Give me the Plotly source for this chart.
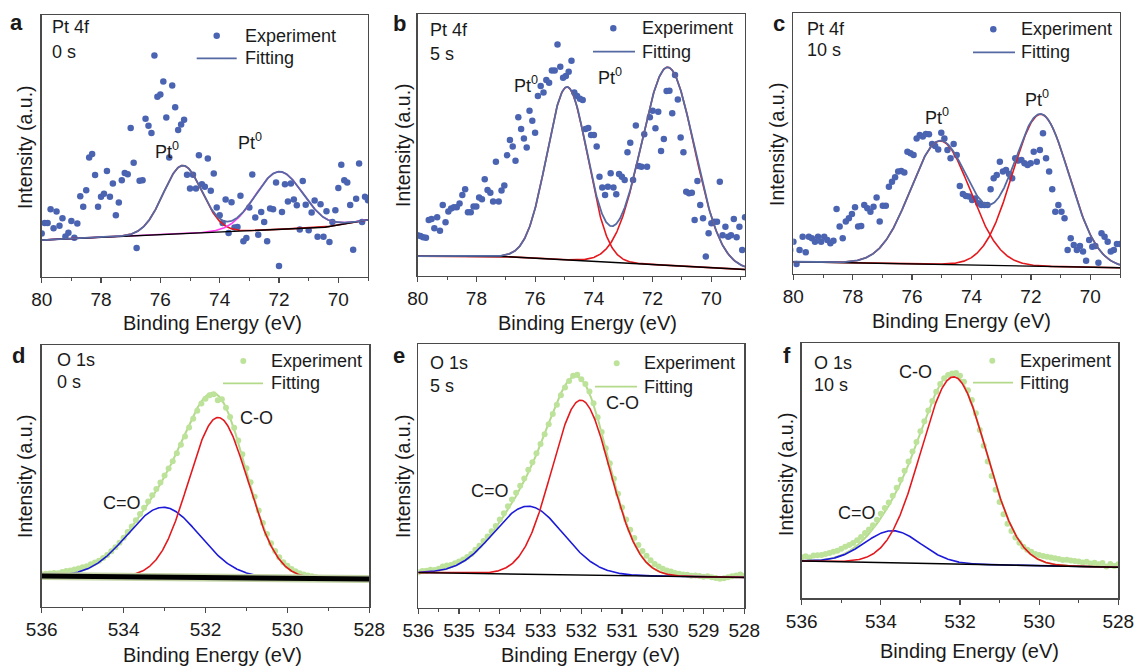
import numpy as np
import plotly.graph_objects as go

W, H = 1136, 666
FONT = "Arial, Liberation Sans, sans-serif"
TXT = "#1a1a1a"

# ---------------- DATA ----------------
# (a) Pt 4f, 0 s
a_energy_range = (80.1, 69.0)
a_counts = [26.1, 16.6, 20.6, 20.6, 25.9, 18.6, 25.0, 19.6, 22.4, 15.5,
            16.9, 21.4, 15.0, 20.4, 30.8, 26.8, 33.1, 45.6, 46.9, 38.9,
            26.8, 30.6, 31.8, 40.5, 30.6, 35.7, 23.6, 28.4, 36.9, 39.7,
            39.2, 56.9, 43.6, 11.1, 36.7, 36.9, 60.4, 57.7, 55.0, 84.5,
            68.8, 69.7, 74.6, 60.9, 45.6, 73.1, 64.8, 56.1, 58.2, 60.0,
            39.0, 33.8, 39.0, 33.8, 46.5, 35.4, 34.4, 45.2, 32.9, 39.5,
            26.5, 23.6, 20.6, 29.6, 16.8, 28.5, 18.9, 19.1, 31.0, 13.6,
            14.9, 26.5, 39.1, 22.7, 16.1, 24.8, 21.0, 13.6, 26.1, 25.9,
            36.1, 4.2, 24.8, 35.4, 28.8, 35.7, 29.6, 27.4, 18.1, 36.6,
            27.6, 17.8, 24.6, 29.2, 15.4, 27.8, 15.4, 25.1, 13.4, 21.0,
            25.5, 34.0, 42.8, 36.9, 36.1, 27.5, 10.4, 29.9, 43.3, 21.0,
            30.6, 29.3]
a_peak_centers = [75.25, 72.0]
a_peak_heights = [26.0, 22.0]
a_peak_sigmas = [0.65, 0.8]
a_base_energy = [80.0, 70.45, 69.0]
a_base_level = [14.1, 19.0, 21.8]

# (b) Pt 4f, 5 s
b_energy_range = (80.1, 68.85)
b_counts = [20.7, 15.6, 15.3, 14.8, 14.6, 21.4, 21.8, 18.2, 22.4, 17.3,
            27.1, 20.5, 24.6, 25.8, 26.2, 26.2, 27.7, 30.9, 33.1, 24.3,
            24.3, 26.5, 26.5, 30.0, 29.3, 36.9, 32.8, 31.8, 28.4, 43.6,
            28.4, 32.6, 34.5, 46.1, 51.9, 49.4, 44.0, 60.6, 56.1, 52.5,
            49.0, 63.1, 59.3, 54.7, 68.7, 72.5, 70.0, 74.8, 73.8, 78.4,
            78.4, 88.4, 79.9, 75.7, 76.3, 78.0, 82.2, 70.0, 68.7, 67.7,
            67.2, 56.1, 56.5, 53.8, 53.8, 49.4, 37.9, 33.8, 30.9, 34.1,
            39.2, 33.8, 31.2, 38.9, 37.9, 36.6, 47.2, 50.9, 36.6, 57.4,
            42.0, 41.7, 54.1, 41.7, 60.6, 63.1, 56.4, 62.7, 47.7, 52.3,
            70.6, 70.7, 62.1, 76.7, 67.4, 52.9, 47.2, 32.2, 31.6, 31.8,
            21.4, 36.3, 27.1, 22.0, 7.4, 16.3, 20.1, 20.7, 20.7, 36.0,
            15.6, 18.8, 15.0, 15.6, 21.8, 14.8, 18.8, 9.9, 22.4]
b_peak_centers = [74.91, 71.48]
b_peak_heights = [66.0, 75.6]
b_peak_sigmas = [0.69, 0.9]
b_base_energy = [80.0, 77.0, 68.85]
b_base_level = [7.6, 7.4, 2.5]

# (c) Pt 4f, 10 s
c_energy_range = (80.1, 69.0)
c_counts = [9.2, 12.4, 3.8, 9.2, 14.3, 8.3, 14.3, 13.7, 12.4, 14.3,
            12.4, 14.3, 13.0, 11.8, 12.8, 24.9, 18.2, 13.7, 20.1, 21.4,
            23.0, 25.6, 18.2, 18.4, 26.5, 25.2, 23.9, 25.8, 29.3, 20.1,
            26.2, 26.2, 33.5, 35.4, 37.1, 39.3, 39.5, 38.9, 46.9, 46.3,
            45.6, 52.0, 53.3, 52.7, 53.7, 53.6, 49.9, 49.1, 47.8, 54.2,
            52.0, 47.6, 44.4, 49.9, 45.6, 33.8, 30.7, 29.9, 29.7, 28.4,
            29.0, 27.1, 26.5, 26.5, 26.5, 32.5, 36.7, 38.0, 43.1, 39.3,
            39.9, 38.4, 36.7, 44.4, 43.5, 43.7, 42.5, 41.8, 42.5, 46.9,
            43.1, 47.6, 54.0, 44.4, 39.3, 32.5, 23.9, 26.5, 23.9, 21.4,
            9.2, 13.7, 11.1, 9.2, 10.7, 8.6, 5.1, 13.0, 10.5, 10.7,
            4.3, 15.6, 14.3, 12.4, 8.6, 9.2, 11.5, 11.5]
c_peak_centers = [75.05, 71.67]
c_peak_heights = [47.4, 58.3]
c_peak_sigmas = [1.0, 0.95]
c_base_energy = [80.0, 69.0]
c_base_level = [4.7, 2.4]

# (d) O 1s, 0 s
d_energy_range = (536.0, 528.0)
d_counts = [12.4, 12.6, 12.7, 12.9, 12.8, 13.3, 13.6, 13.8, 14.2, 14.6, 15.1,
            15.5, 16.2, 16.9, 17.6, 18.6, 19.8, 21.2, 22.7, 24.4, 26.3,
            28.5, 30.6, 33.0, 35.4, 37.8, 40.2, 42.6, 45.0, 47.5, 50.1,
            52.8, 55.6, 58.6, 61.9, 65.0, 68.5, 71.8, 74.9, 77.6, 79.5,
            80.8, 81.2, 78.9, 79.3, 76.0, 72.5, 68.4, 63.5, 58.3, 52.9,
            47.6, 42.0, 36.8, 32.0, 27.8, 24.2, 21.3, 18.9, 17.0, 15.6,
            14.4, 13.5, 12.8, 12.3, 11.9, 11.6, 11.3, 11.1, 11.0, 10.9,
            10.8, 10.7, 10.7, 10.6, 10.6, 10.5, 10.5, 10.4, 10.4, 10.4]
d_peak_centers = [533.03, 531.69]
d_peak_heights = [26.7, 61.2]
d_peak_sigmas = [0.88, 0.72]
d_base_energy = [536.0, 528.0]
d_base_level = [11.7, 10.6]

# (e) O 1s, 5 s
e_energy_range = (536.0, 528.0)
e_counts = [13.4, 13.9, 14.0, 14.4, 14.3, 14.8, 15.6, 16.0, 16.2, 16.9, 17.5,
            18.3, 19.2, 20.4, 22.0, 23.5, 25.3, 27.0, 29.0, 31.0, 33.4,
            35.8, 38.5, 41.0, 43.6, 46.2, 49.0, 52.3, 55.2, 58.6, 62.1,
            65.8, 69.6, 73.5, 77.0, 80.6, 83.5, 86.0, 88.0, 88.3, 86.6,
            84.8, 82.0, 77.5, 72.2, 66.6, 60.5, 54.8, 48.9, 43.2, 38.0,
            33.4, 29.6, 26.4, 23.8, 21.5, 19.7, 18.0, 16.6, 15.6, 14.8,
            14.1, 13.7, 13.2, 12.9, 12.6, 12.5, 12.1, 12.2, 12.0, 11.7,
            11.9, 11.5, 11.3, 11.0, 11.2, 11.5, 11.9, 12.2, 12.6, 12.0]
e_peak_centers = [533.30, 532.01]
e_peak_heights = [25.8, 66.3]
e_peak_sigmas = [0.85, 0.71]
e_base_energy = [536.0, 528.0]
e_base_level = [13.3, 11.5]

# (f) O 1s, 10 s
f_energy_range = (536.0, 528.0)
f_counts = [16.1, 16.5, 16.0, 16.8, 16.9, 17.0, 17.4, 17.8, 18.3, 18.6, 19.4,
            20.2, 20.9, 21.7, 22.8, 24.0, 25.6, 27.0, 28.6, 30.8, 33.2,
            35.4, 37.6, 40.2, 43.4, 46.5, 50.0, 53.6, 57.6, 61.3, 65.5,
            69.4, 73.6, 77.4, 81.0, 84.0, 86.3, 87.6, 88.2, 88.4, 87.3,
            84.9, 81.6, 77.8, 72.6, 66.0, 59.8, 53.6, 48.0, 42.6, 37.8,
            33.0, 29.2, 26.4, 23.8, 21.8, 20.2, 19.0, 18.3, 17.4, 17.0,
            16.6, 16.3, 16.0, 15.7, 15.4, 15.0, 15.1, 14.8, 14.6, 14.4,
            14.0, 14.3, 13.6, 13.9, 13.4, 13.8, 12.5, 13.5, 12.7, 13.4]
f_peak_centers = [533.70, 532.16]
f_peak_heights = [12.6, 73.4]
f_peak_sigmas = [0.71, 0.82]
f_base_energy = [536.0, 528.0]
f_base_level = [14.6, 12.2]

panel_letters = ["a", "b", "c", "d", "e", "f"]
panel_core = ["Pt 4f", "Pt 4f", "Pt 4f", "O 1s", "O 1s", "O 1s"]
panel_time = ["0 s", "5 s", "10 s", "0 s", "5 s", "10 s"]
legend_names = ["Experiment", "Fitting"]
x_title = "Binding Energy (eV)"
y_title = "Intensity (a.u.)"

# ---------------- STYLE / LAYOUT ----------------
PT_DOT = "#4a64b2"
PT_FIT = "#5569a3"
O_DOT = "#bde39b"
O_FIT = "#b3da8a"
RED = "#e3191e"
MAGENTA = "#ff3cf0"
BLUE = "#1c1ad8"

# frame pixel boxes: left, right, top, bottom
frames = [
    (41.7, 368.0, 15.0, 277.0),
    (417.7, 745.0, 14.0, 276.0),
    (793.3, 1120.0, 13.3, 274.0),
    (41.7, 369.3, 345.0, 606.7),
    (418.3, 744.3, 344.0, 607.7),
    (801.7, 1118.3, 343.3, 598.3),
]

def gauss(x, c, h, s):
    return h * np.exp(-(x - c) ** 2 / (2 * s ** 2))

def px(x):
    return x / W

def py(y):
    return 1 - y / H

fig = go.Figure()

panels = [
    dict(rng=a_energy_range, y=a_counts, pc=a_peak_centers, ph=a_peak_heights, ps=a_peak_sigmas,
         be=a_base_energy, bl=a_base_level, xr=(80, 69), kind="pt", comp_colors=[RED, MAGENTA]),
    dict(rng=b_energy_range, y=b_counts, pc=b_peak_centers, ph=b_peak_heights, ps=b_peak_sigmas,
         be=b_base_energy, bl=b_base_level, xr=(80, 68.85), kind="pt", comp_colors=[RED, RED]),
    dict(rng=c_energy_range, y=c_counts, pc=c_peak_centers, ph=c_peak_heights, ps=c_peak_sigmas,
         be=c_base_energy, bl=c_base_level, xr=(80, 69), kind="pt", comp_colors=[RED, RED]),
    dict(rng=d_energy_range, y=d_counts, pc=d_peak_centers, ph=d_peak_heights, ps=d_peak_sigmas,
         be=d_base_energy, bl=d_base_level, xr=(536, 528), kind="o", comp_colors=[BLUE, RED]),
    dict(rng=e_energy_range, y=e_counts, pc=e_peak_centers, ph=e_peak_heights, ps=e_peak_sigmas,
         be=e_base_energy, bl=e_base_level, xr=(536, 528), kind="o", comp_colors=[BLUE, RED]),
    dict(rng=f_energy_range, y=f_counts, pc=f_peak_centers, ph=f_peak_heights, ps=f_peak_sigmas,
         be=f_base_energy, bl=f_base_level, xr=(536, 528), kind="o", comp_colors=[BLUE, RED]),
]

# legend key positions (px): dot center x, text left x, row1 y, line x0, line x1, row2 y
legend_keys = [
    (216.7, 242.7, 35.7, 196.7, 236.7, 58.3),
    (613.3, 640.0, 28.3, 593.0, 635.0, 51.7),
    (993.3, 1019.3, 29.3, 973.0, 1015.0, 52.3),
    (243.3, 269.3, 361.0, 223.0, 263.0, 383.3),
    (616.7, 641.7, 363.3, 595.0, 637.0, 386.7),
    (992.3, 1018.3, 360.7, 973.0, 1013.0, 382.7),
]

layout_extra = {}
annotations = []
shapes = []

def ann(x, y, text, size=18, xanchor="center", yanchor="middle", angle=0, bold=False):
    annotations.append(dict(x=px(x), y=py(y), xref="paper", yref="paper",
                            text=f"<b>{text}</b>" if bold else text,
                            showarrow=False, xanchor=xanchor, yanchor=yanchor, textangle=angle,
                            font=dict(family=FONT, size=size, color=TXT)))

for i, p in enumerate(panels):
    n = i + 1
    xa = "x" if n == 1 else f"x{n}"
    ya = "y" if n == 1 else f"y{n}"
    energy = np.linspace(p["rng"][0], p["rng"][1], len(p["y"]))
    fitx = np.linspace(max(p["xr"]), min(p["xr"]), 700)
    base = np.interp(fitx, p["be"][::-1], p["bl"][::-1])
    comps = [gauss(fitx, c, h, s) for c, h, s in zip(p["pc"], p["ph"], p["ps"])]
    env = base + sum(comps)
    dot_col = PT_DOT if p["kind"] == "pt" else O_DOT
    fit_col = PT_FIT if p["kind"] == "pt" else O_FIT
    dot_size = 6.5 if p["kind"] == "pt" else 6

    exp_tr = go.Scatter(x=energy, y=p["y"], mode="markers", name=legend_names[0], showlegend=False,
                        marker=dict(color=dot_col, size=dot_size), xaxis=xa, yaxis=ya)
    env_tr = go.Scatter(x=fitx, y=env, mode="lines", name=legend_names[1], showlegend=False,
                        line=dict(color=fit_col, width=1.8 if p["kind"] == "pt" else 2),
                        xaxis=xa, yaxis=ya)
    comp_trs = [go.Scatter(x=fitx, y=base + cp, mode="lines", showlegend=False,
                           line=dict(color=col, width=1.6), xaxis=xa, yaxis=ya)
                for cp, col in zip(comps, p["comp_colors"])]
    base_trs = []
    if n == 4:
        base_trs.append(go.Scatter(x=p["be"], y=p["bl"], mode="lines", showlegend=False,
                                   line=dict(color="#c3d3a6", width=8), xaxis=xa, yaxis=ya))
        base_trs.append(go.Scatter(x=p["be"], y=p["bl"], mode="lines", showlegend=False,
                                   line=dict(color="black", width=5), xaxis=xa, yaxis=ya))
    else:
        base_trs.append(go.Scatter(x=p["be"], y=p["bl"], mode="lines", showlegend=False,
                                   line=dict(color="black", width=1.4), xaxis=xa, yaxis=ya))

    if p["kind"] == "pt":
        order = [exp_tr] + comp_trs + base_trs + [env_tr]
    else:
        order = [env_tr, exp_tr] + comp_trs + base_trs
    for t in order:
        fig.add_trace(t)

    l, r, t_, b = frames[i]
    is_e = (n == 5)
    common = dict(showline=True, linecolor="#4a4a4a", linewidth=1.4, mirror=True,
                  showgrid=False, zeroline=False, automargin=False)
    layout_extra["xaxis" if n == 1 else f"xaxis{n}"] = dict(
        domain=[px(l), px(r)], anchor=ya, range=list(p["xr"]),
        tickmode="linear", tick0=80 if p["kind"] == "pt" else 528,
        dtick=1 if is_e else 2, ticks="outside", ticklen=5, tickwidth=1.2, tickcolor="#4a4a4a",
        minor=dict(dtick=0.5 if is_e else 1, ticks="outside", ticklen=3, tickwidth=1, tickcolor="#4a4a4a"),
        tickfont=dict(family=FONT, size=19, color=TXT), **common)
    layout_extra["yaxis" if n == 1 else f"yaxis{n}"] = dict(
        domain=[py(b), py(t_)], anchor=xa, range=[0, 100], showticklabels=False, ticks="", **common)

    # manual legend
    dx, tx, y1, lx0, lx1, y2 = legend_keys[i]
    rad = dot_size / 2
    shapes.append(dict(type="circle", xref="paper", yref="paper",
                       x0=px(dx - rad), x1=px(dx + rad), y0=py(y1 + rad), y1=py(y1 - rad),
                       fillcolor=dot_col, line=dict(width=0)))
    shapes.append(dict(type="line", xref="paper", yref="paper",
                       x0=px(lx0), x1=px(lx1), y0=py(y2), y1=py(y2),
                       line=dict(color=fit_col, width=1.8)))
    ann(tx, y1, legend_names[0], xanchor="left")
    ann(tx, y2, legend_names[1], xanchor="left")

# ---------------- TEXT ----------------
letter_pos = [(16.7, 23.0), (399.0, 24.0), (779.0, 24.0), (18.3, 355.6), (399.0, 355.6), (787.0, 355.6)]
core_pos = [(50.0, 27.0, 52.0), (428.3, 30.4, 53.7), (805.0, 28.7, 50.4),
            (55.0, 360.4, 382.0), (428.3, 363.0, 386.4), (811.7, 363.0, 385.4)]
xtitle_pos = [(212, 323), (587, 323), (961, 321), (212, 655), (590, 655), (969, 651)]
ytitle_pos = [(25, 147), (403, 145), (777, 144), (25, 476), (403, 476), (786, 474)]

for i in range(6):
    ann(*letter_pos[i], panel_letters[i], size=22, bold=True)
    x0, y1, y2 = core_pos[i]
    ann(x0, y1, panel_core[i], xanchor="left")
    ann(x0, y2, panel_time[i], xanchor="left")
    ann(*xtitle_pos[i], x_title, size=20)
    ann(*ytitle_pos[i], y_title, size=19.5, angle=-90)

pt_label_pos = [(166.7, 150), (250, 141), (526.3, 85), (610.3, 76.7), (936.7, 116.7), (1036.7, 98.3)]
for (x, y) in pt_label_pos:
    ann(x, y, "Pt<sup>0</sup>")

o_labels = [("C=O", 122.3, 503), ("C-O", 256, 418.3), ("C=O", 490, 491),
            ("C-O", 622.5, 403), ("C-O", 915, 371.7), ("C=O", 857, 513.3)]
for text, x, y in o_labels:
    ann(x, y, text)

fig.update_layout(width=W, height=H, margin=dict(l=0, r=0, t=0, b=0, pad=0),
                  paper_bgcolor="white", plot_bgcolor="white", showlegend=False,
                  font=dict(family=FONT, color=TXT), annotations=annotations, shapes=shapes,
                  **layout_extra)

fig.write_html("out.html", config={"displayModeBar": False, "staticPlot": True},
               post_script="document.body.style.margin='0px';")
